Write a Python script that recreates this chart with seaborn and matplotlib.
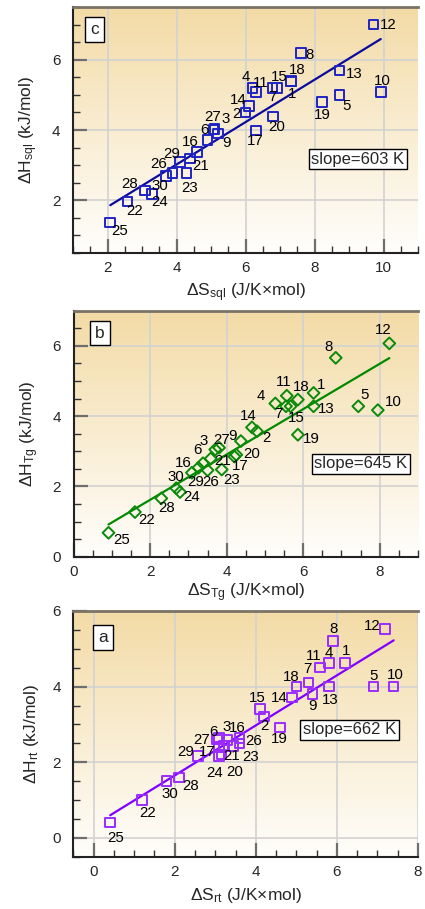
import numpy as np
import pandas as pd
import matplotlib
matplotlib.use("Agg")
import matplotlib.pyplot as plt
import seaborn as sns
from matplotlib.ticker import MultipleLocator

sns.set_theme(style="white")
plt.rcParams["font.family"] = ["Liberation Sans", "DejaVu Sans"]
plt.rcParams["mathtext.default"] = "regular"

# ---------------- data ----------------
point_ids = [str(i) for i in range(1, 31)]

# panel c (sql)
c_x = [7.31, 6.00, 4.59, 6.20, 8.72, 5.07, 6.92, 7.60, 5.20, 9.92,
       6.30, 9.71, 8.72, 6.10, 6.78, 4.90, 6.30, 7.31, 8.21, 6.80,
       4.39, 2.58, 4.29, 3.29, 2.08, 3.88, 5.10, 3.08, 4.10, 3.69]
c_y = [5.38, 4.50, 3.37, 5.19, 4.99, 4.01, 5.19, 6.19, 3.90, 5.09,
       5.09, 7.00, 5.69, 4.69, 5.19, 3.71, 3.99, 5.40, 4.80, 4.38,
       3.19, 1.97, 2.78, 2.18, 1.37, 2.78, 4.02, 2.28, 3.09, 2.69]
c_fit = (0.603, 0.606)   # slope, intercept

# panel b (Tg)
b_x = [6.27, 4.79, 3.70, 5.27, 7.44, 3.38, 5.55, 6.85, 4.37, 7.95,
       5.57, 8.25, 6.27, 4.66, 5.67, 3.09, 4.20, 5.86, 5.86, 4.25,
       3.58, 1.60, 3.87, 2.78, 0.91, 3.50, 3.80, 2.29, 3.26, 2.68]
b_y = [4.66, 3.57, 3.05, 4.36, 4.28, 2.66, 4.28, 5.66, 3.29, 4.17,
       4.58, 6.07, 4.28, 3.68, 4.28, 2.39, 2.85, 4.47, 3.47, 2.90,
       2.79, 1.27, 2.48, 1.84, 0.68, 2.46, 3.10, 1.66, 2.53, 1.95]
b_fit = (0.645, 0.33)

# panel a (rt)
a_x = [6.20, 4.20, 3.30, 5.80, 6.90, 3.09, 5.30, 5.90, 5.40, 7.40,
       5.58, 7.19, 5.80, 4.89, 4.10, 3.60, 3.10, 5.00, 4.59, 3.15,
       3.21, 1.20, 3.44, 3.09, 0.41, 3.60, 3.05, 2.10, 2.58, 1.80]
a_y = [4.62, 3.21, 2.58, 4.62, 4.00, 2.64, 4.11, 5.20, 3.80, 4.00,
       4.51, 5.52, 4.00, 3.71, 3.41, 2.64, 2.42, 4.00, 2.92, 2.20,
       2.43, 1.00, 2.43, 2.15, 0.40, 2.49, 2.60, 1.60, 2.17, 1.51]
a_fit = (0.662, 0.325)

slope_texts = ["slope=603 K", "slope=645 K", "slope=662 K"]
panel_letters = ["c", "b", "a"]

# ---------------- label offsets (pixels) ----------------
c_off = [(1, -12), (-9, -2), (29, 33), (-7, 11), (7, -11), (-9, 0), (-5, -9), (9, -2), (9, -9), (2, 11),
         (5, 9), (15, 0), (15, -3), (-11, 6), (7, 11), (-17, -2), (-1, -11), (6, 11), (1, -13), (4, -10),
         (11, -8), (7, -10), (3, -15), (8, -8), (9, -9), (-14, 9), (-2, 12), (-15, 6), (-8, 8), (-6, -10)]
b_off = [(8, 8), (9, -7), (-12, 9), (-14, 7), (6, 11), (-6, 13), (-8, -8), (-7, 11), (-8, 5), (15, 8),
         (-3, 14), (-6, 13), (13, -3), (-4, 11), (6, -12), (-9, 10), (6, -9), (3, 13), (13, -4), (15, 1),
         (12, -2), (12, -8), (10, -10), (12, -5), (13, -7), (3, -12), (3, 8), (5, -10), (-3, -14), (0, 11)]
a_off = [(1, 12), (1, -10), (-1, 13), (0, 10), (0, 11), (-5, 6), (-1, 13), (1, 12), (0, -12), (2, 12),
         (-6, 11), (-13, 3), (1, -13), (-13, 0), (-3, 11), (-2, 10), (-12, -6), (-5, 10), (0, -12), (13, -17),
         (8, -10), (5, -13), (17, -11), (-4, -16), (5, -15), (14, 3), (-16, 0), (12, -9), (-13, 4), (3, -13)]

W, H = 425, 909
fig = plt.figure(figsize=(W / 100, H / 100), dpi=100)

grad = np.linspace(0, 1, 256)[:, None]
top = np.array([243, 219, 166]) / 255
bot = np.array([255, 254, 252]) / 255
img = top[None, None, :] * (1 - grad[..., None]) + bot[None, None, :] * grad[..., None]
img = np.repeat(img, 2, axis=1)


def panel(rect, x, y, off, marker, msize, mcol, lcol, fit, stext, spos, letter, lpos,
          xlim, ylim, xlabel, ylabel, xlab_y):
    ax = fig.add_axes(rect)
    ax.imshow(img, extent=[0, 1, 0, 1], transform=ax.transAxes, aspect="auto", zorder=0)
    df = pd.DataFrame({"x": x, "y": y, "id": point_ids})
    sns.scatterplot(data=df, x="x", y="y", marker=marker, s=msize, facecolors="none",
                    edgecolors=mcol, linewidth=1.4, ax=ax, zorder=3)
    xs = np.array([min(x), max(x)])
    line = pd.DataFrame({"x": xs, "y": fit[0] * xs + fit[1]})
    sns.lineplot(data=line, x="x", y="y", color=lcol, lw=1.6, ax=ax, zorder=2)
    for lab, xi, yi, (dx, dy) in zip(point_ids, x, y, off):
        ax.annotate(lab, (xi, yi), xytext=(dx, dy), textcoords="offset pixels",
                    ha="center", va="center", fontsize=10.8, color="black", zorder=4)
    ax.set_xlim(*xlim)
    ax.set_ylim(*ylim)
    ax.xaxis.set_major_locator(MultipleLocator(2))
    ax.xaxis.set_minor_locator(MultipleLocator(0.5))
    ax.yaxis.set_major_locator(MultipleLocator(2))
    ax.yaxis.set_minor_locator(MultipleLocator(0.5))
    ax.grid(True, which="major", color="#d2d2d2", lw=1.2)
    ax.set_axisbelow(True)
    for im in ax.get_images():
        im.set_zorder(0)
    ax.tick_params(which="major", direction="in", length=10, width=1.6, color="#6e6e6e",
                   labelsize=11, bottom=True, left=True, top=False, right=False)
    ax.tick_params(which="minor", direction="in", length=5, width=1.0, color="#333333",
                   bottom=True, left=True, top=False, right=False)
    ax.tick_params(axis="x", which="major", pad=6)
    ax.tick_params(axis="y", which="major", pad=9)
    for s in ["left", "bottom"]:
        ax.spines[s].set_color("#222222")
        ax.spines[s].set_linewidth(1.5)
    ax.spines["top"].set_color("#7a7266")
    ax.spines["top"].set_linewidth(2)
    ax.spines["right"].set_visible(False)
    ax.set_xlabel(xlabel, fontsize=12.5)
    ax.set_ylabel(ylabel, fontsize=12.5)
    ax.xaxis.set_label_coords(0.5, xlab_y)
    ax.yaxis.set_label_coords(-0.095, 0.5)
    ax.text(spos[0], spos[1], stext, transform=ax.transAxes, ha="left", va="center",
            fontsize=12, zorder=5,
            bbox=dict(boxstyle="square,pad=0.15", fc="white", ec="black", lw=1))
    ax.text(lpos[0], lpos[1], letter, transform=ax.transAxes, ha="center", va="center",
            fontsize=12.5, zorder=5,
            bbox=dict(boxstyle="square,pad=0.28", fc="white", ec="black", lw=1))
    return ax


panel([73 / W, (H - 253) / H, 345 / W, 246 / H], c_x, c_y, c_off, "s", 48,
      "#1f24c4", "#0b0b9e", c_fit, slope_texts[0], (0.691, 0.382), panel_letters[0], (0.062, 0.909),
      (1, 11), (0.5, 7.5), r"$\Delta$S$_{sql}$ (J/K$\times$mol)", r"$\Delta$H$_{sql}$ (kJ/mol)", -0.115)

panel([73.7 / W, (H - 556.7) / H, 344.3 / W, 246 / H], b_x, b_y, b_off, "D", 36,
      "#0a8a0a", "#008a00", b_fit, slope_texts[1], (0.698, 0.378), panel_letters[1], (0.076, 0.909),
      (0, 9), (0, 7), r"$\Delta$S$_{Tg}$ (J/K$\times$mol)", r"$\Delta$H$_{Tg}$ (kJ/mol)", -0.10)

panel([73.3 / W, (H - 856.7) / H, 344.7 / W, 245.7 / H], a_x, a_y, a_off, "s", 48,
      "#9a2cff", "#8000ff", a_fit, slope_texts[2], (0.666, 0.516), panel_letters[2], (0.086, 0.892),
      (-0.5, 8), (-0.5, 6), r"$\Delta$S$_{rt}$ (J/K$\times$mol)", r"$\Delta$H$_{rt}$ (kJ/mol)", -0.12)

fig.savefig("out.png", dpi=100)
